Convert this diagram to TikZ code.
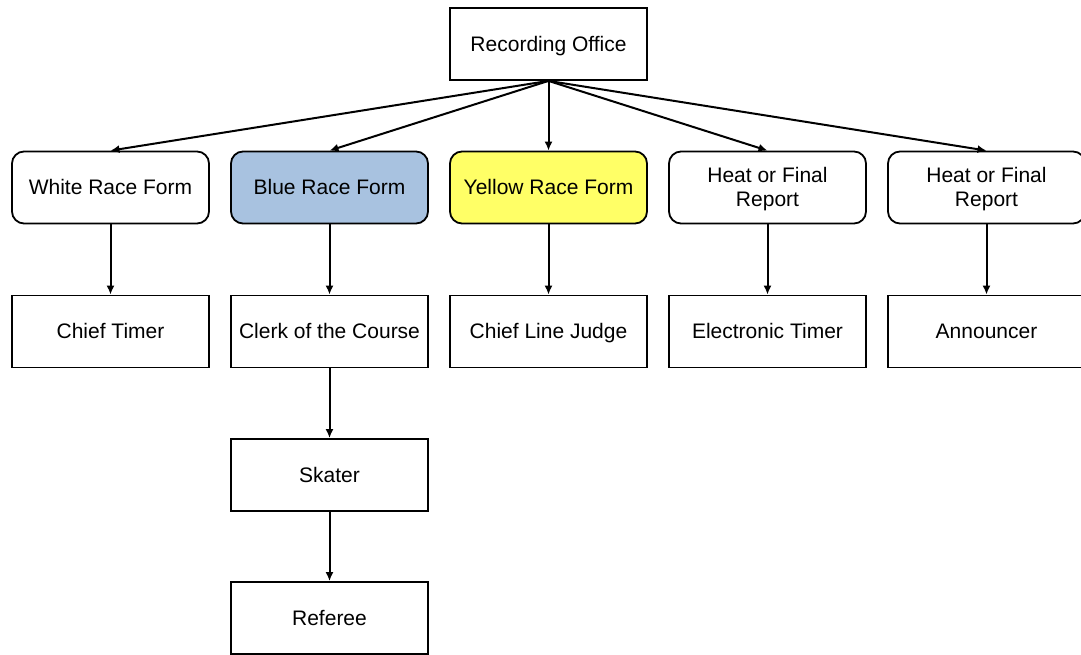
\documentclass[tikz,border=0pt]{standalone}
\usepackage{fontspec}
\setmainfont{Liberation Sans}
\usetikzlibrary{arrows.meta}
\definecolor{bluefill}{RGB}{168,194,224}
\definecolor{yellowfill}{RGB}{255,255,102}
\begin{document}
\begin{tikzpicture}[x=1pt,y=1pt,
  base/.style={draw=black, line width=1.8pt, rectangle, minimum width=197pt, minimum height=72pt, inner sep=2pt, align=center, font=\fontsize{21}{24}\selectfont},
  box/.style={base, text height=17pt, text depth=2.5pt},
  rbox/.style={box, rounded corners=12pt},
  hbox/.style={base, rounded corners=12pt, text depth=0.4pt},
  arr/.style={line width=2pt, -{Latex[length=9pt,width=8pt]}}
]
\useasboundingbox (0,0) rectangle (1081,654);
\node[box] (ro) at (548.5,610) {Recording Office};
\node[rbox] (wrf) at (110.5,466.5) {White Race Form};
\node[rbox, fill=bluefill] (brf) at (329.5,466.5) {Blue Race Form};
\node[rbox, fill=yellowfill] (yrf) at (548.5,466.5) {Yellow Race Form};
\node[hbox] (h1) at (767.5,466.5) {Heat or Final\\Report};
\node[hbox] (h2) at (986.5,466.5) {Heat or Final\\Report};
\node[box] (ct) at (110.5,322.5) {Chief Timer};
\node[box] (cc) at (329.5,322.5) {Clerk of the Course};
\node[box] (cl) at (548.5,322.5) {Chief Line Judge};
\node[box] (et) at (767.5,322.5) {Electronic Timer};
\node[box] (an) at (986.5,322.5) {Announcer};
\node[box] (sk) at (329.5,179) {Skater};
\node[box] (rf) at (329.5,36) {Referee};
\foreach \t in {wrf,brf,yrf,h1,h2} \draw[arr] (ro.south) -- (\t.north);
\draw[arr] (wrf) -- (ct);
\draw[arr] (brf) -- (cc);
\draw[arr] (yrf) -- (cl);
\draw[arr] (h1) -- (et);
\draw[arr] (h2) -- (an);
\draw[arr] (cc) -- (sk);
\draw[arr] (sk) -- (rf);
\end{tikzpicture}
\end{document}
